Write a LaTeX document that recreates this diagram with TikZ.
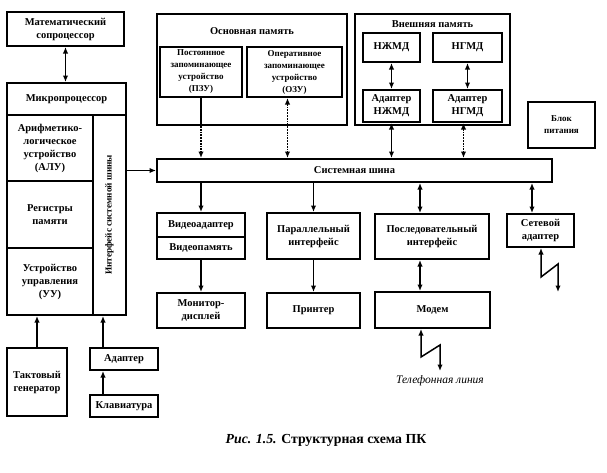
\documentclass[tikz,border=0pt]{standalone}
\usepackage{fontspec}
\setmainfont{Liberation Serif}
\usepackage{tikz}
\usetikzlibrary{calc}
\usetikzlibrary{arrows.meta}

\begin{document}
\begin{tikzpicture}[x=1pt,y=-1pt]

\def\lwblk{2pt}
\def\lw{1.5pt}
\tikzset{
blk/.style = {draw=black, line width=\lwblk, inner sep=1pt, align=center,
	font=\fontsize{10.5}{13}\selectfont\bfseries},
small/.style = {font=\fontsize{9}{12}\selectfont\bfseries},
link/.style = {line width=\lw, >={Latex[length=6.5pt,width=5.5pt]}},
dotlink/.style = {link, dash pattern=on 1.8pt off 1pt}
}

\useasboundingbox (0,0) rectangle (607,472);

% processor part
\node[blk, minimum width=117, minimum height=34] (coproc) at (65.5,29) {Математический\\сопроцессор};
\node[blk, minimum width=119, minimum height=32] (mphead) at (66.5,99) {Микропроцессор};
\node[blk, minimum width=86, minimum height=66] (alu) at (50,148) {Арифметико-\\логическое\\устройство\\(АЛУ)};
\node[blk, minimum width=86, minimum height=67] (reg) at (50,214.5) {Регистры\\памяти};
\node[blk, minimum width=86, minimum height=67] (uu) at (50,281.5) {Устройство\\управления\\(УУ)};
\node[blk, minimum width=33, minimum height=200] (iface) at (109.5,215) {};
\node[rotate=90, font=\fontsize{9.2}{11}\selectfont\bfseries] (ifacetxt) at (iface.center) {Интерфейс системной шины};

\node[blk, minimum width=60, minimum height=68] (clock) at (37,382) {Тактовый\\генератор};
\node[blk, minimum width=68, minimum height=22] (kbadapt) at (124,359) {Адаптер};
\node[blk, minimum width=68, minimum height=22] (keyb) at (124,406) {Клавиатура};

% main memory
\node[blk, minimum width=190, minimum height=111] (mainmem) at (252,69.5) {};
\node[font=\fontsize{10.5}{13}\selectfont\bfseries] (mmtitle) at (252,31) {Основная память};
\node[blk, small, minimum width=82, minimum height=50] (pzu) at (201,72) {Постоянное\\запоминающее\\устройство\\(ПЗУ)};
\node[blk, small, minimum width=95, minimum height=50] (ozu) at (294.5,72) {Оперативное\\запоминающее\\устройство\\(ОЗУ)};

% external memory
\node[blk, minimum width=155, minimum height=111] (extmem) at (432.5,69.5) {};
\node[font=\fontsize{10.5}{13}\selectfont\bfseries] (emtitle) at (432.5,24) {Внешняя память};
\node[blk, minimum width=57, minimum height=29] (hdd) at (391.5,47.5) {НЖМД};
\node[blk, minimum width=69, minimum height=29] (fdd) at (467.5,47.5) {НГМД};
\node[blk, minimum width=57, minimum height=32] (hddad) at (391.5,106) {Адаптер\\НЖМД};
\node[blk, minimum width=69, minimum height=32] (fddad) at (467.5,106) {Адаптер\\НГМД};

\node[blk, small, minimum width=67, minimum height=46] (power) at (561.5,125) {Блок\\питания};

% bus and devices
\node[blk, minimum width=395, minimum height=23, font=\fontsize{10.5}{13}\selectfont\bfseries] (bus) at (354.5,170.5) {Системная шина};

\node[blk, minimum width=88, minimum height=24] (vadapt) at (201,225) {Видеоадаптер};
\node[blk, minimum width=88, minimum height=22] (vmem) at (201,248) {Видеопамять};
\node[blk, minimum width=88, minimum height=35] (monitor) at (201,310.5) {Монитор-\\дисплей};
\node[blk, minimum width=93, minimum height=46] (par) at (313.5,236) {Параллельный\\интерфейс};
\node[blk, minimum width=93, minimum height=35] (printer) at (313.5,310.5) {Принтер};
\node[blk, minimum width=114, minimum height=45] (ser) at (432,236.5) {Последовательный\\интерфейс};
\node[blk, minimum width=115, minimum height=36] (modem) at (432.5,310) {Модем};
\node[blk, minimum width=67, minimum height=33] (net) at (540.5,230.5) {Сетевой\\адаптер};

% connectors
\draw[link,<->] (coproc.south) -- (coproc.south |- mphead.north);
\draw[link,->] (clock.north) -- (clock.north |- uu.south);
\coordinate (kbx) at (103,0);
\draw[link,->] (kbx |- kbadapt.north) -- (kbx |- iface.south);
\draw[link,->] (kbx |- keyb.north) -- (kbx |- kbadapt.south);
\draw[link,->] (iface.east |- bus.west) -- (bus.west);

\draw[link] (pzu.south) -- (pzu.south |- mainmem.south);
\draw[dotlink,->] (pzu.south |- mainmem.south) -- (pzu.south |- bus.north);
\coordinate (ozux) at ($(ozu.south)+(-7,0)$);
\draw[dotlink,<->] (ozux) -- (ozux |- bus.north);

\draw[link,<->] (hdd.south) -- (hddad.north);
\draw[link,<->] (fdd.south) -- (fddad.north);
\draw[link,<->] (hddad.south) -- (hddad.south |- bus.north);
\coordinate (fddx) at ($(fddad.south)+(-4,0)$);
\draw[dotlink,<->] (fddx) -- (fddx |- bus.north);

\draw[link,->] (bus.south -| vadapt.north) -- (vadapt.north);
\draw[link,->] (vmem.south) -- (monitor.north);
\draw[link,->] (bus.south -| par.north) -- (par.north);
\draw[link,->] (par.south) -- (printer.north);
\coordinate (serx) at ($(ser.north)+(-12,0)$);
\draw[link,<->] (serx |- bus.south) -- (serx);
\draw[link,<->] (serx |- ser.south) -- (serx |- modem.north);
\coordinate (netx) at ($(net.north)+(-8.5,0)$);
\draw[link,<->] (netx |- bus.south) -- (netx);

% lines out
\coordinate (tel1) at (421,357);
\coordinate (tel2) at (440,345);
\coordinate (tel3) at (440,371);
\draw[link,<->] (tel1 |- modem.south) -- (tel1) -- (tel2) -- (tel3);
\node[font=\fontsize{11.5}{13}\selectfont\itshape, anchor=north] (tellbl) at (440,372) {Телефонная линия};

\coordinate (lan1) at (541,277);
\coordinate (lan2) at (558,264);
\coordinate (lan3) at (558,292);
\draw[link,<->] (lan1 |- net.south) -- (lan1) -- (lan2) -- (lan3);

\node[font=\fontsize{13.8}{16}\selectfont\bfseries] (caption) at (326,440) {\textit{Рис. 1.5.} Структурная схема ПК};

\end{tikzpicture}
\end{document}
